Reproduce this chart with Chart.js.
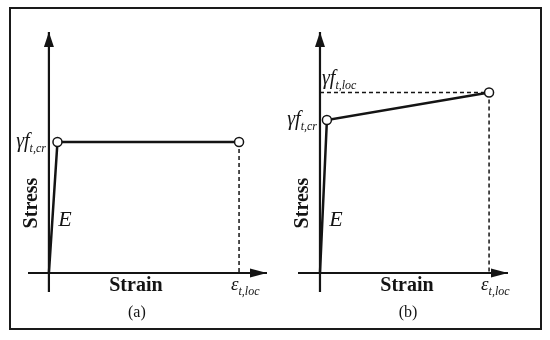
<!DOCTYPE html>
<html>
<head>
<meta charset="utf-8">
<script src="https://cdn.jsdelivr.net/npm/chart.js@4.4.0/dist/chart.umd.min.js"></script>
<style>
  body { margin: 0; background: #fff; }
  #frame { position: absolute; left: 9px; top: 7px; width: 533px; height: 323px; box-sizing: border-box; border: 2px solid #1a1a1a; }
  canvas { position: absolute; top: 0; }
</style>
</head>
<body>
<div id="frame"></div>
<canvas id="chartA" width="275" height="340" style="left:0"></canvas>
<canvas id="chartB" width="275" height="340" style="left:275px"></canvas>
<script>
// (a) elastic - perfectly plastic, (b) elastic - hardening
var strainA = [0, 0.45, 10];
var stressA = [0, 1, 1];
var strainB = [0, 0.41, 10];
var stressB = [0, 1, 1.18];
// scale ranges [xmin, xmax, ymin, ymax]
var rangeA = [-1.1, 11.47, -0.145, 1.84];
var rangeB = [-1.3, 11.12, -0.124, 1.575];

var ink = '#141414';
var serif = '"Liberation Serif", "DejaVu Serif", serif';

function pts(xs, ys) {
  return xs.map(function (x, i) { return { x: x, y: ys[i] }; });
}

// main text + subscript, e.g. γf with t,cr
function subText(ctx, x, y, main, sub, size, align) {
  var small = Math.round(size * 0.62);
  ctx.font = 'italic ' + size + 'px ' + serif;
  var w1 = ctx.measureText(main).width;
  ctx.font = 'italic ' + small + 'px ' + serif;
  var w2 = ctx.measureText(sub).width;
  var x0 = align === 'right' ? x - w1 - w2 : x;
  ctx.textAlign = 'left';
  ctx.textBaseline = 'alphabetic';
  ctx.font = 'italic ' + size + 'px ' + serif;
  ctx.fillText(main, x0, y);
  ctx.font = 'italic ' + small + 'px ' + serif;
  ctx.fillText(sub, x0 + w1, y + size * 0.25);
}

var sketch = {
  id: 'sketch',
  afterDatasetsDraw: function (chart, args, opts) {
    var ctx = chart.ctx, xs = chart.scales.x, ys = chart.scales.y;
    var ox = xs.getPixelForValue(0), oy = ys.getPixelForValue(0);
    var xe = xs.getPixelForValue(xs.max), yt = ys.getPixelForValue(ys.max);
    var cr = chart.data.datasets[0].data[1], lc = chart.data.datasets[0].data[2];
    var cry = ys.getPixelForValue(cr.y);
    var lcx = xs.getPixelForValue(lc.x), lcy = ys.getPixelForValue(lc.y);
    ctx.save();
    ctx.fillStyle = ink;
    // arrow heads
    ctx.beginPath();
    ctx.moveTo(ox, yt); ctx.lineTo(ox - 5, yt + 15); ctx.lineTo(ox + 5, yt + 15);
    ctx.closePath(); ctx.fill();
    ctx.beginPath();
    ctx.moveTo(xe, oy); ctx.lineTo(xe - 17, oy - 4.5); ctx.lineTo(xe - 17, oy + 4.5);
    ctx.closePath(); ctx.fill();

    subText(ctx, ox - 3, cry + 5, 'γf', 't,cr', 20, 'right');
    if (opts.loc) subText(ctx, ox + 2, lcy - 8, 'γf', 't,loc', 20, 'left');
    subText(ctx, lcx - 8, oy + 17, 'ε', 't,loc', 19, 'left');

    ctx.font = 'italic 22px ' + serif;
    ctx.textAlign = 'center'; ctx.textBaseline = 'middle';
    ctx.fillText('E', ox + 16, oy - 53);

    ctx.font = 'bold 20px ' + serif;
    ctx.fillText('Strain', ox + 87, oy + 13);
    ctx.save();
    ctx.translate(ox - 17, oy - 70);
    ctx.rotate(-Math.PI / 2);
    ctx.fillText('Stress', 0, 0);
    ctx.restore();

    ctx.font = '16px ' + serif;
    ctx.fillText(opts.tag, ox + 88, oy + 40);
    ctx.restore();
  }
};

function makeChart(id, strain, stress, range, pad, tag, loc) {
  var top = strain.length - 1;
  var guides = [{ x: strain[top], y: stress[top] }, { x: strain[top], y: 0 }];
  var datasets = [
    {
      data: pts(strain, stress),
      borderColor: ink, borderWidth: 2.5,
      pointRadius: [0, 4.5, 4.5], pointBorderWidth: 1.5,
      pointBackgroundColor: '#fff', pointBorderColor: ink,
      order: 0
    },
    { data: guides, borderColor: ink, borderWidth: 1.5, borderDash: [4, 3], pointRadius: 0, order: 2 },
    { data: [{ x: range[0], y: 0 }, { x: range[1], y: 0 }], borderColor: ink, borderWidth: 2, pointRadius: 0, order: 1 },
    { data: [{ x: 0, y: range[2] }, { x: 0, y: range[3] }], borderColor: ink, borderWidth: 2.2, pointRadius: 0, order: 1 }
  ];
  if (loc) {
    datasets.push({ data: [{ x: 0, y: stress[top] }, { x: strain[top], y: stress[top] }], borderColor: ink, borderWidth: 1.5, borderDash: [4, 3], pointRadius: 0, order: 2 });
  }
  return new Chart(document.getElementById(id), {
    type: 'line',
    data: { datasets: datasets },
    options: {
      responsive: false,
      animation: false,
      layout: { padding: pad },
      scales: {
        x: { type: 'linear', display: false, min: range[0], max: range[1] },
        y: { type: 'linear', display: false, min: range[2], max: range[3] }
      },
      plugins: { legend: { display: false }, tooltip: { enabled: false }, sketch: { tag: tag, loc: loc } }
    },
    plugins: [sketch]
  });
}

makeChart('chartA', strainA, stressA, rangeA, { left: 28, right: 8, top: 32, bottom: 48 }, '(a)', false);
makeChart('chartB', strainB, stressB, rangeB, { left: 23, right: 42, top: 32, bottom: 48 }, '(b)', true);
</script>
</body>
</html>
